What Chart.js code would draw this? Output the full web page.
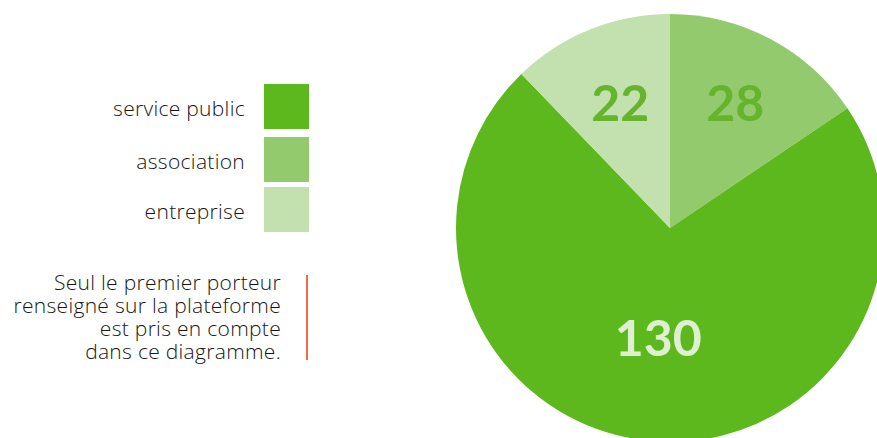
<!DOCTYPE html>
<html lang="fr">
<head>
<meta charset="utf-8">
<script src="https://cdn.jsdelivr.net/npm/chart.js@4/dist/chart.umd.min.js"></script>
<style>
  html, body { margin: 0; padding: 0; width: 877px; height: 438px; overflow: hidden; background: #fff; }
  body { position: relative; font-family: "Open Sans", "Noto Sans", sans-serif; color: #161616; }
  #pieWrap { position: absolute; left: 455.5px; top: 14px; width: 428px; height: 428px; }
  #legend { position: absolute; left: 0; top: 84px; width: 309px; }
  .row { display: flex; justify-content: flex-end; align-items: center; height: 45px; }
  .row span { font-size: 21px; font-weight: 300; margin-right: 19px; line-height: 45px; letter-spacing: 0.3px; position: relative; top: 2px; }
  .row i { display: block; width: 45px; height: 45px; }
  #note { position: absolute; right: 596px; top: 271px; text-align: right; font-size: 21px; font-weight: 300; line-height: 23px; letter-spacing: 0.3px; white-space: nowrap; }
  #bar { position: absolute; left: 305.5px; top: 275px; width: 2.5px; height: 85px; background: #f26b4a; }
</style>
</head>
<body>
<div id="legend"></div>
<div id="note">Seul le premier porteur<br>renseigné sur la plateforme<br>est pris en compte<br>dans ce diagramme.</div>
<div id="bar"></div>
<div id="pieWrap"><canvas id="c" width="428" height="428"></canvas></div>
<script>
// Data (clockwise from 12 o'clock)
const categories = ["association", "service public", "entreprise"];
const values = [28, 130, 22];
const sliceColors = ["#93ca6d", "#5db81e", "#c2e1ae"];
const labelColors = ["#66b32e", "#dff0d0", "#66b32e"];
const legendOrder = ["service public", "association", "entreprise"];
const labelRadius = [0.65, 0.525, 0.62];
const legendGaps = [0, 8, 5];

// HTML legend
const lg = document.getElementById('legend');
legendOrder.forEach((name, k) => {
  const i = categories.indexOf(name);
  const row = document.createElement('div');
  row.className = 'row';
  row.style.marginTop = legendGaps[k] + 'px';
  row.innerHTML = '<span>' + name + '</span><i style="background:' + sliceColors[i] + '"></i>';
  lg.appendChild(row);
});

const valueLabels = {
  id: 'valueLabels',
  afterDatasetsDraw(chart) {
    const ctx = chart.ctx;
    const meta = chart.getDatasetMeta(0);
    ctx.save();
    ctx.font = 'bold 50px Lato, "Open Sans", sans-serif';
    ctx.textAlign = 'center';
    ctx.textBaseline = 'middle';
    meta.data.forEach((arc, i) => {
      const p = arc.getProps(['x', 'y', 'startAngle', 'endAngle', 'outerRadius'], true);
      const a = (p.startAngle + p.endAngle) / 2;
      const r = p.outerRadius * labelRadius[i];
      ctx.fillStyle = labelColors[i];
      ctx.fillText(String(values[i]), p.x + Math.cos(a) * r, p.y + Math.sin(a) * r);
    });
    ctx.restore();
  }
};

new Chart(document.getElementById('c'), {
  type: 'pie',
  data: {
    labels: categories,
    datasets: [{ data: values, backgroundColor: sliceColors, borderWidth: 0, hoverOffset: 0 }]
  },
  options: {
    responsive: false,
    animation: false,
    rotation: 0,
    layout: { padding: 0 },
    plugins: { legend: { display: false }, tooltip: { enabled: false } }
  },
  plugins: [valueLabels]
});
</script>
</body>
</html>
